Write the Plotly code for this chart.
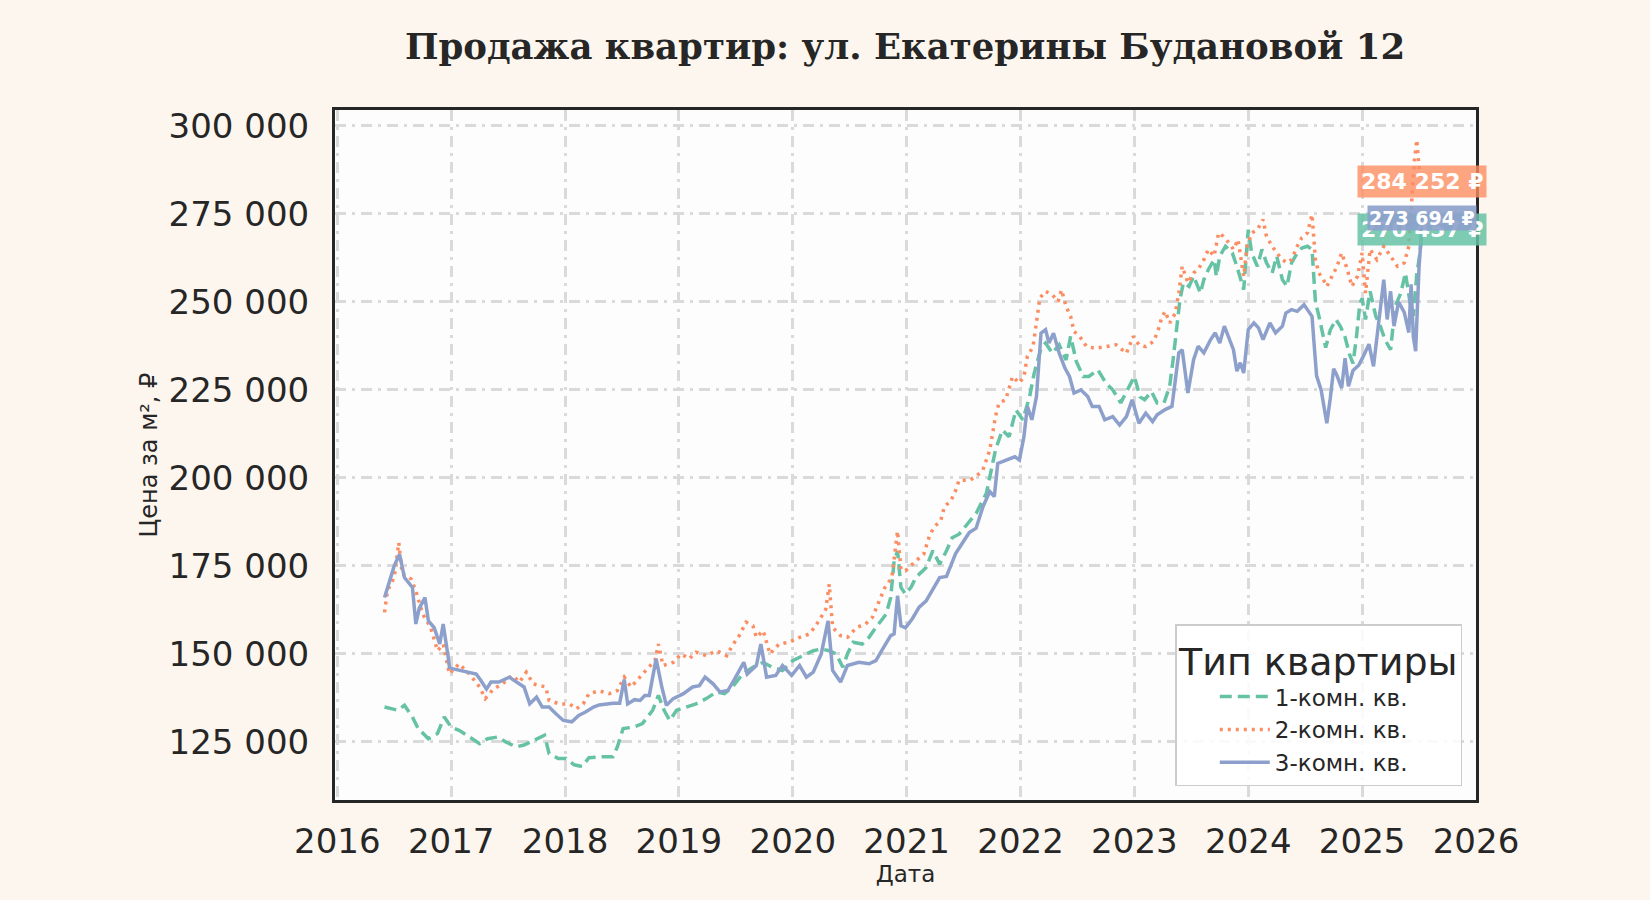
import plotly.graph_objects as go

# ---- data (decimal years, price per m2 in thousand RUB) ----
years_1k = [2016.415, 2016.49, 2016.53, 2016.59, 2016.66, 2016.71, 2016.80, 2016.88, 2016.94, 2017.00,
            2017.07, 2017.16, 2017.25, 2017.32, 2017.41, 2017.48, 2017.57, 2017.64, 2017.73, 2017.82,
            2017.86, 2017.94, 2018.01, 2018.08, 2018.15, 2018.21, 2018.33, 2018.42, 2018.46, 2018.51,
            2018.60, 2018.68, 2018.77, 2018.82, 2018.87, 2018.92, 2018.98, 2019.06, 2019.15, 2019.24,
            2019.33, 2019.40, 2019.47, 2019.56, 2019.65, 2019.74, 2019.82, 2019.91, 2020.00, 2020.09,
            2020.18, 2020.25, 2020.32, 2020.38, 2020.44, 2020.48, 2020.53, 2020.61, 2020.67, 2020.73,
            2020.82, 2020.86, 2020.89, 2020.92, 2020.95, 2020.99, 2021.04, 2021.08, 2021.17, 2021.23,
            2021.29, 2021.35, 2021.40, 2021.46, 2021.55, 2021.61, 2021.70, 2021.78, 2021.84, 2021.90,
            2021.96, 2022.02, 2022.08, 2022.12, 2022.18, 2022.22, 2022.28, 2022.34, 2022.40, 2022.44,
            2022.49, 2022.55, 2022.60, 2022.68, 2022.75, 2022.81, 2022.88, 2022.96, 2023.00, 2023.05,
            2023.09, 2023.15, 2023.20, 2023.26, 2023.31, 2023.34, 2023.37, 2023.40, 2023.43, 2023.48,
            2023.52, 2023.58, 2023.61, 2023.65, 2023.70, 2023.72, 2023.75, 2023.80, 2023.86, 2023.90,
            2023.96, 2024.00, 2024.03, 2024.08, 2024.12, 2024.16, 2024.21, 2024.25, 2024.30, 2024.34,
            2024.38, 2024.43, 2024.47, 2024.52, 2024.56, 2024.59, 2024.62, 2024.65, 2024.68, 2024.72,
            2024.77, 2024.81, 2024.85, 2024.89, 2024.92, 2024.95, 2024.98, 2025.00, 2025.03, 2025.07,
            2025.12, 2025.16, 2025.20, 2025.25, 2025.29, 2025.34, 2025.38, 2025.42, 2025.45, 2025.48,
            2025.50, 2025.53]
price_1k = [134.9, 134.4, 134.0, 135.4, 132.1, 128.8, 125.9, 127.4, 132.1, 129.2,
            128.3, 126.4, 124.5, 125.9, 126.4, 125.0, 123.6, 124.1, 125.5, 126.9,
            121.7, 120.3, 120.3, 118.5, 118.0, 120.5, 120.8, 120.8, 123.6, 128.8,
            129.2, 130.2, 134.0, 138.2, 134.0, 131.1, 134.0, 134.9, 135.8, 137.3,
            139.2, 138.7, 140.6, 144.3, 146.2, 147.6, 146.2, 145.3, 148.1, 149.5,
            150.9, 151.4, 150.9, 150.0, 146.2, 150.0, 153.3, 152.8, 154.7, 157.5,
            161.3, 166.0, 176.4, 179.2, 168.9, 167.0, 169.0, 171.7, 174.5, 179.3,
            175.5, 179.3, 183.0, 184.0, 187.5, 189.9, 195.6, 207.9, 213.6, 211.7,
            219.3, 216.5, 223.1, 229.7, 236.8, 238.3, 235.4, 237.8, 233.5, 240.2,
            233.1, 228.8, 228.8, 230.7, 226.9, 225.0, 221.3, 226.5, 228.8, 223.0,
            222.2, 224.5, 221.3, 221.3, 226.0, 233.6, 243.1, 250.6, 255.4, 254.4,
            257.3, 252.5, 256.3, 259.2, 262.0, 257.3, 263.0, 265.8, 263.9, 260.1,
            253.5, 270.5, 263.9, 260.1, 264.9, 261.1, 258.2, 263.0, 256.3, 254.4,
            261.1, 263.9, 265.3, 265.8, 264.9, 250.0, 246.0, 242.0, 237.0, 242.0,
            245.0, 243.0, 240.0, 235.0, 232.5, 240.0, 249.5, 251.0, 245.0, 253.0,
            245.9, 243.1, 239.3, 236.4, 248.7, 252.5, 258.2, 250.0, 246.0, 258.0,
            262.0, 270.457]

years_2k = [2016.415, 2016.44, 2016.50, 2016.54, 2016.57, 2016.61, 2016.65, 2016.69, 2016.75, 2016.82,
            2016.88, 2016.93, 2016.985, 2017.03, 2017.07, 2017.16, 2017.25, 2017.30, 2017.37, 2017.45,
            2017.54, 2017.60, 2017.66, 2017.72, 2017.83, 2017.86, 2017.95, 2018.04, 2018.10, 2018.16,
            2018.21, 2018.30, 2018.39, 2018.46, 2018.52, 2018.58, 2018.63, 2018.71, 2018.79, 2018.82,
            2018.86, 2018.95, 2019.02, 2019.09, 2019.15, 2019.24, 2019.33, 2019.42, 2019.47, 2019.53,
            2019.59, 2019.65, 2019.68, 2019.74, 2019.80, 2019.88, 2019.97, 2020.06, 2020.15, 2020.23,
            2020.29, 2020.32, 2020.35, 2020.42, 2020.48, 2020.56, 2020.64, 2020.70, 2020.76, 2020.81,
            2020.87, 2020.92, 2020.95, 2020.99, 2021.08, 2021.15, 2021.20, 2021.24, 2021.30, 2021.33,
            2021.39, 2021.43, 2021.46, 2021.55, 2021.61, 2021.67, 2021.73, 2021.78, 2021.81, 2021.87,
            2021.93, 2021.99, 2022.03, 2022.06, 2022.11, 2022.14, 2022.17, 2022.22, 2022.28, 2022.33,
            2022.36, 2022.40, 2022.44, 2022.47, 2022.52, 2022.58, 2022.66, 2022.75, 2022.84, 2022.93,
            2022.99, 2023.04, 2023.10, 2023.17, 2023.21, 2023.24, 2023.27, 2023.31, 2023.36, 2023.39,
            2023.42, 2023.45, 2023.47, 2023.52, 2023.56, 2023.61, 2023.65, 2023.70, 2023.74, 2023.78,
            2023.83, 2023.87, 2023.91, 2023.96, 2023.99, 2024.03, 2024.08, 2024.13, 2024.16, 2024.21,
            2024.25, 2024.30, 2024.34, 2024.38, 2024.43, 2024.47, 2024.52, 2024.56, 2024.59, 2024.62,
            2024.66, 2024.69, 2024.74, 2024.78, 2024.82, 2024.87, 2024.91, 2024.96, 2025.00, 2025.03,
            2025.07, 2025.13, 2025.19, 2025.25, 2025.31, 2025.37, 2025.41, 2025.44, 2025.46, 2025.48,
            2025.50, 2025.53]
price_2k = [161.8, 167.9, 171.7, 181.6, 172.6, 172.3, 171.2, 167.9, 161.3, 157.5,
            150.9, 152.8, 144.3, 146.0, 147.2, 144.3, 140.6, 137.3, 140.0, 141.5,
            143.9, 142.0, 144.8, 141.5, 140.6, 136.8, 135.8, 135.8, 134.4, 135.8,
            138.7, 139.5, 138.7, 139.6, 143.4, 140.6, 142.5, 145.3, 148.1, 152.8,
            146.7, 147.6, 150.0, 148.6, 150.5, 149.5, 150.9, 149.5, 152.4, 155.2,
            159.0, 158.0, 154.7, 156.6, 150.0, 152.8, 153.3, 154.7, 155.7, 159.4,
            162.7, 169.8, 157.5, 155.2, 154.7, 157.5, 158.5, 160.4, 165.1, 168.9,
            171.7, 184.9, 174.0, 173.6, 176.4, 178.3, 183.5, 186.0, 187.9, 191.7,
            193.6, 196.4, 199.3, 199.3, 200.4, 202.3, 207.9, 217.4, 221.2, 222.2,
            228.8, 226.9, 228.8, 234.5, 237.3, 244.0, 251.1, 253.0, 252.0, 250.1,
            253.4, 248.7, 245.9, 241.6, 240.2, 237.3, 236.8, 237.3, 237.8, 235.4,
            240.2, 237.8, 237.3, 238.8, 242.1, 245.5, 247.3, 244.0, 246.8, 252.5,
            260.1, 257.3, 255.4, 258.2, 259.2, 262.0, 264.9, 263.0, 269.6, 268.6,
            266.8, 264.9, 267.7, 257.3, 265.8, 269.6, 270.5, 273.4, 268.6, 265.8,
            263.9, 262.0, 261.1, 262.0, 265.8, 268.2, 269.6, 274.8, 262.0, 258.2,
            256.3, 254.4, 257.3, 260.1, 263.9, 259.2, 254.4, 257.3, 263.9, 252.5,
            264.9, 262.0, 265.8, 263.0, 260.1, 261.1, 265.8, 280.9, 290.4, 296.0,
            288.0, 284.252]

years_3k = [2016.415, 2016.45, 2016.50, 2016.547, 2016.59, 2016.66, 2016.69, 2016.72, 2016.77, 2016.80,
            2016.85, 2016.90, 2016.93, 2016.97, 2016.985, 2017.01, 2017.07, 2017.13, 2017.22, 2017.26,
            2017.31, 2017.35, 2017.42, 2017.51, 2017.57, 2017.64, 2017.69, 2017.75, 2017.80, 2017.86,
            2017.92, 2017.985, 2018.06, 2018.12, 2018.18, 2018.25, 2018.30, 2018.36, 2018.42, 2018.48,
            2018.52, 2018.55, 2018.61, 2018.66, 2018.70, 2018.74, 2018.80, 2018.85, 2018.89, 2018.95,
            2019.04, 2019.12, 2019.18, 2019.23, 2019.30, 2019.36, 2019.43, 2019.49, 2019.57, 2019.60,
            2019.68, 2019.72, 2019.77, 2019.85, 2019.91, 2019.99, 2020.06, 2020.12, 2020.18, 2020.25,
            2020.31, 2020.35, 2020.39, 2020.42, 2020.48, 2020.58, 2020.67, 2020.73, 2020.79, 2020.86,
            2020.89, 2020.92, 2020.95, 2020.99, 2021.05, 2021.11, 2021.17, 2021.23, 2021.29, 2021.35,
            2021.39, 2021.43, 2021.49, 2021.55, 2021.61, 2021.67, 2021.73, 2021.77, 2021.80, 2021.87,
            2021.95, 2021.99, 2022.03, 2022.06, 2022.10, 2022.14, 2022.18, 2022.22, 2022.25, 2022.29,
            2022.34, 2022.39, 2022.43, 2022.47, 2022.53, 2022.59, 2022.63, 2022.69, 2022.74, 2022.81,
            2022.87, 2022.93, 2022.98, 2023.04, 2023.10, 2023.16, 2023.20, 2023.27, 2023.33, 2023.36,
            2023.39, 2023.42, 2023.45, 2023.47, 2023.52, 2023.56, 2023.61, 2023.67, 2023.71, 2023.75,
            2023.79, 2023.84, 2023.87, 2023.90, 2023.93, 2023.96, 2024.00, 2024.05, 2024.09, 2024.13,
            2024.19, 2024.24, 2024.30, 2024.33, 2024.38, 2024.43, 2024.49, 2024.53, 2024.56, 2024.58,
            2024.60, 2024.64, 2024.67, 2024.69, 2024.72, 2024.75, 2024.78, 2024.82, 2024.85, 2024.88,
            2024.92, 2024.97, 2025.01, 2025.06, 2025.10, 2025.15, 2025.19, 2025.22, 2025.25, 2025.28,
            2025.32, 2025.37, 2025.41, 2025.43, 2025.45, 2025.47, 2025.50, 2025.53]
price_3k = [166.0, 170.0, 175.0, 178.3, 171.7, 168.9, 158.5, 163.0, 166.0, 159.4,
            157.5, 152.8, 158.5, 150.0, 146.2, 145.8, 145.3, 144.8, 144.3, 142.5,
            140.0, 142.0, 142.0, 143.4, 142.0, 140.6, 135.8, 137.7, 134.9, 134.9,
            133.0, 131.1, 130.7, 132.5, 133.5, 134.9, 135.5, 135.8, 136.0, 136.0,
            142.7, 135.8, 137.0, 136.8, 138.2, 138.2, 148.6, 140.6, 135.4, 137.3,
            138.7, 140.6, 141.0, 143.4, 141.5, 139.2, 139.6, 142.9, 147.6, 144.3,
            146.7, 152.8, 143.4, 143.9, 146.7, 143.9, 146.7, 143.4, 144.8, 150.0,
            159.4, 145.3, 143.4, 142.0, 146.7, 147.6, 147.2, 148.1, 151.4, 155.2,
            155.7, 166.5, 158.0, 157.4, 160.0, 163.3, 165.0, 168.5, 171.7, 172.0,
            175.0, 178.5, 181.5, 184.5, 185.7, 191.8, 196.1, 194.7, 204.1, 205.1,
            206.0, 205.1, 211.7, 220.3, 216.5, 223.1, 241.1, 242.1, 238.3, 241.1,
            235.4, 231.2, 228.8, 224.1, 225.0, 223.1, 220.3, 220.3, 216.5, 217.4,
            215.0, 217.4, 222.2, 215.5, 218.4, 216.0, 217.9, 219.4, 220.3, 227.9,
            235.5, 236.4, 228.8, 224.1, 233.6, 237.4, 235.5, 239.3, 241.2, 238.3,
            243.1, 239.3, 236.4, 230.3, 232.7, 229.8, 242.1, 244.0, 242.6, 239.3,
            244.0, 241.2, 243.1, 246.8, 247.8, 247.3, 249.2, 247.3, 245.9, 237.3,
            229.0, 225.0, 219.0, 215.5, 222.5, 231.0, 229.0, 225.5, 234.0, 226.0,
            230.5, 232.0, 234.5, 238.0, 231.7, 245.0, 256.3, 245.0, 253.0, 243.1,
            250.0, 247.0, 241.3, 255.0, 240.0, 236.0, 260.0, 273.694]

series_names = ["1-комн. кв.", "2-комн. кв.", "3-комн. кв."]
series_colors = ["#66c2a5", "#fc8d62", "#8da0cb"]
y_ticks = [125000, 150000, 175000, 200000, 225000, 250000, 275000, 300000]
y_tick_text = ["125 000", "150 000", "175 000", "200 000", "225 000", "250 000", "275 000", "300 000"]
x_ticks = [2016, 2017, 2018, 2019, 2020, 2021, 2022, 2023, 2024, 2025, 2026]
x_tick_text = [str(t) for t in x_ticks]

TXT = "#262626"
fig = go.Figure()

all_years = [years_1k, years_2k, years_3k]
all_prices = [price_1k, price_2k, price_3k]
dashes = ["12px,6px", "3px,5px", "solid"]
for name, col, xs, ys, dsh in zip(series_names, series_colors, all_years, all_prices, dashes):
    fig.add_trace(go.Scatter(
        x=xs, y=[v * 1000 for v in ys], mode="lines", name=name,
        line=dict(color=col, width=3.5, dash=dsh),
    ))

def fmt(v):
    return f"{round(v * 1000):,}".replace(",", " ") + " ₽"

# end-of-line value labels (green, orange, then blue on top)
label_order = [(0, 22, 3, "rgba(102,194,165,0.85)"),
               (1, 22, 3, "rgba(252,141,98,0.8)"),
               (2, 19, 1, "rgba(141,160,203,0.9)")]
for idx, fsize, pad, bg in label_order:
    fig.add_annotation(
        x=all_years[idx][-1], y=all_prices[idx][-1] * 1000, xref="x", yref="y",
        text="<b>" + fmt(all_prices[idx][-1]) + "</b>", showarrow=False,
        font=dict(family="DejaVu Sans", size=fsize, color="white"),
        bgcolor=bg, borderpad=pad, xanchor="center", yanchor="middle",
    )

grid = dict(showgrid=True, gridcolor="#dadada", gridwidth=2.5, griddash="11px,6px,3px,6px")
fig.update_layout(
    width=1650, height=900,
    paper_bgcolor="#fdf6ee", plot_bgcolor="#fdfdfd",
    margin=dict(l=335, r=174, t=110, b=100),
    title=dict(text="<b>Продажа квартир: ул. Екатерины Будановой 12</b>",
               font=dict(family="DejaVu Serif", size=35.5, color=TXT),
               x=0.5485, xanchor="center", y=0.948, yanchor="middle"),
    xaxis=dict(range=[2015.98, 2026.0], tickvals=x_ticks, ticktext=x_tick_text,
               tickfont=dict(family="DejaVu Sans", size=34, color=TXT), ticks="",
               ticklabelstandoff=9,
               showline=True, linecolor=TXT, linewidth=3, mirror=True, zeroline=False,
               title=dict(text="Дата", font=dict(family="DejaVu Sans", size=23, color=TXT), standoff=7),
               **grid),
    yaxis=dict(range=[108500, 304500], tickvals=y_ticks, ticktext=y_tick_text,
               tickfont=dict(family="DejaVu Sans", size=34, color=TXT), ticks="",
               ticklabelstandoff=16,
               showline=True, linecolor=TXT, linewidth=3, mirror=True, zeroline=False,
               title=dict(text="Цена за м², ₽", font=dict(family="DejaVu Sans", size=24, color=TXT), standoff=5),
               **grid),
    legend=dict(
        x=0.988, y=0.02, xanchor="right", yanchor="bottom",
        bgcolor="rgba(255,255,255,0.85)", bordercolor="#cccccc", borderwidth=1.5,
        font=dict(family="DejaVu Sans", size=23, color=TXT),
        title=dict(text="Тип квартиры", side="top center",
                   font=dict(family="DejaVu Sans", size=38, color=TXT)),
        indentation=38, itemwidth=50, tracegroupgap=4,
    ),
    showlegend=True,
)

fig.write_html(
    "out.html",
    config={"displayModeBar": False},
    post_script="document.body.style.margin='0';document.body.style.background='#fdf6ee';",
)
